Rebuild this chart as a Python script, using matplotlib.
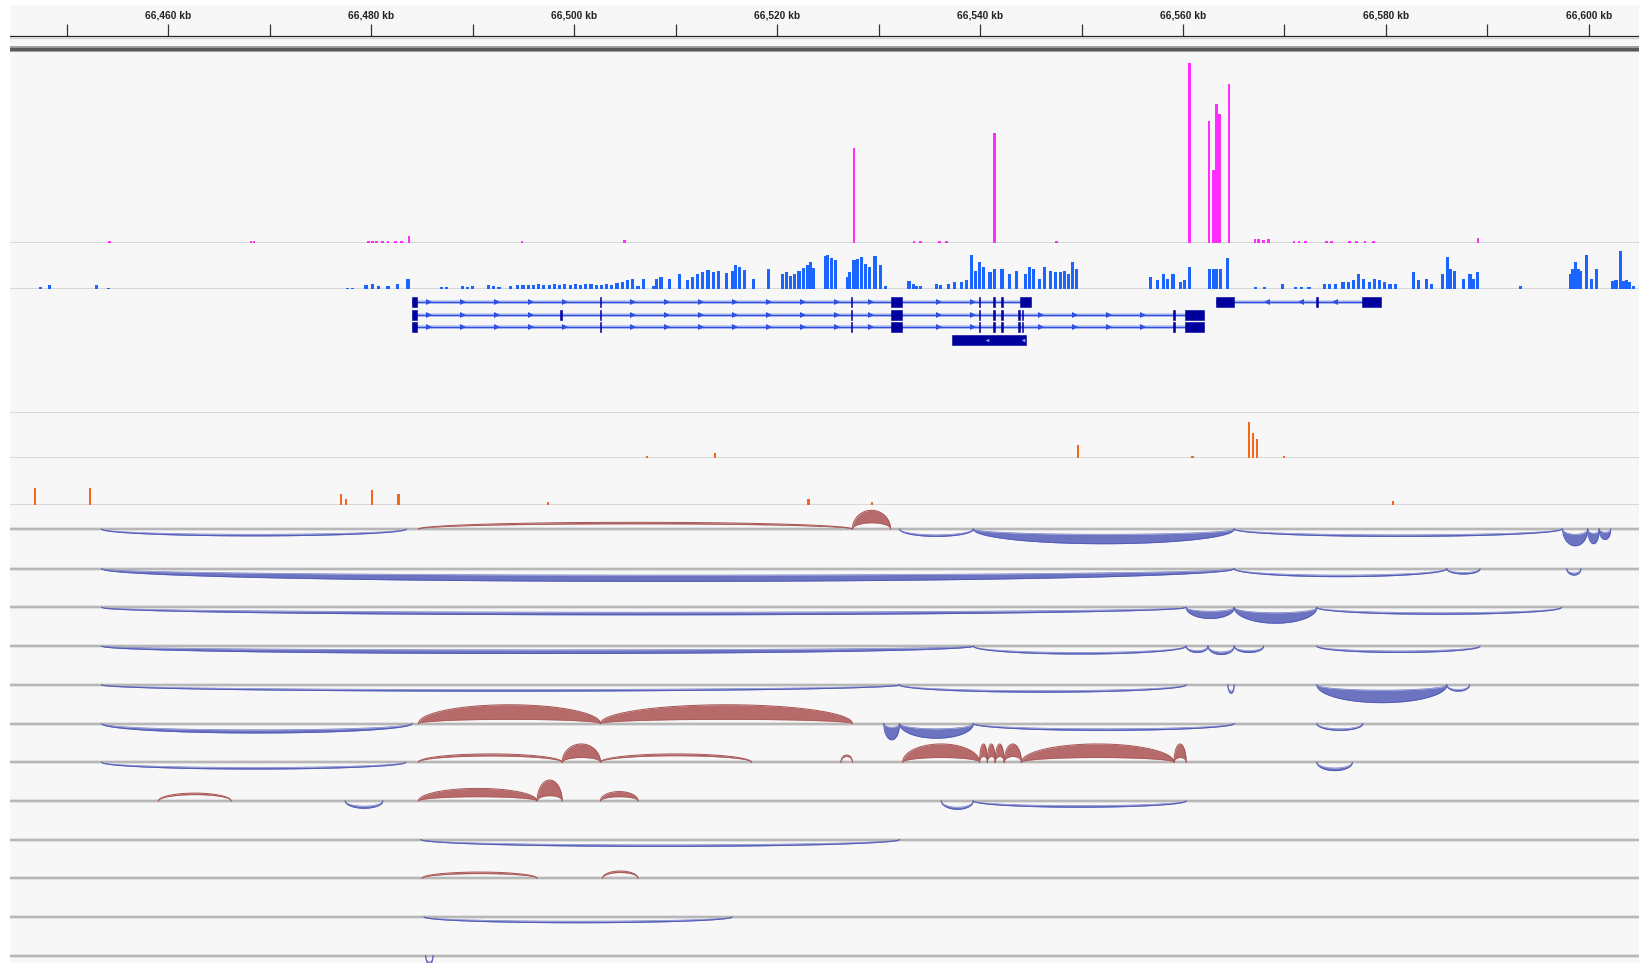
import numpy as np
import matplotlib
matplotlib.use("Agg")
import matplotlib.pyplot as plt
from matplotlib.patches import Rectangle

# ---------------- data ----------------
RULER_TICKS_KB = [66450, 66460, 66470, 66480, 66490, 66500, 66510, 66520,
                  66530, 66540, 66550, 66560, 66570, 66580, 66590, 66600]
RULER_LABELS_KB = [66460, 66480, 66500, 66520, 66540, 66560, 66580, 66600]

mag_x = [66454.22, 66468.14, 66468.45, 66479.69, 66480.10, 66480.51, 66481.13, 66481.65,
         66482.37, 66482.99, 66483.71, 66494.84, 66504.95, 66527.58, 66533.50, 66534.12,
         66535.98, 66536.70, 66541.44, 66547.52, 66560.62, 66562.58, 66562.99, 66563.30,
         66563.61, 66564.53, 66567.11, 66567.42, 66567.94, 66568.45, 66570.93, 66571.44,
         66572.06, 66574.12, 66574.64, 66576.39, 66577.11, 66577.94, 66578.76, 66589.07]
mag_h = [2, 2, 2, 2, 2, 2, 2, 2, 2, 2, 7, 2, 3, 91, 2, 2, 2, 2, 105, 2,
         172, 117, 70, 133, 123, 152, 4, 4, 3, 4, 2, 2, 2, 2, 2, 2, 2, 2, 2, 5]

blue_x = [66447.42, 66448.25, 66452.88, 66454.12,
          66477.63, 66478.14, 66479.48, 66480.10, 66480.72, 66481.65, 66482.58, 66483.61,
          66486.91, 66487.42, 66488.97, 66489.48, 66490.00, 66491.54, 66492.06, 66492.58, 66493.71,
          66494.43, 66494.95, 66495.46, 66495.98, 66496.49, 66497.01, 66497.52, 66498.04, 66498.55,
          66499.07, 66499.59, 66500.10, 66500.62, 66501.13, 66501.65, 66502.16, 66502.68, 66503.19,
          66503.71, 66504.22, 66504.74, 66505.26, 66505.77, 66506.29,
          66506.80, 66507.83, 66508.14, 66508.55, 66509.38, 66510.41, 66511.13, 66511.65, 66512.16,
          66512.68, 66513.19, 66513.71, 66514.22, 66515.05, 66515.56, 66515.87, 66516.29, 66516.80,
          66517.63, 66519.17, 66520.51, 66520.93, 66521.34, 66521.75, 66522.16, 66522.58, 66522.99,
          66523.30, 66523.61,
          66524.74, 66525.00, 66525.36, 66525.77,
          66526.91, 66527.16, 66527.58, 66527.94, 66528.35, 66528.71, 66529.12, 66529.64, 66530.15, 66530.67,
          66532.99, 66533.40, 66533.76, 66534.12,
          66535.67, 66536.08, 66536.85, 66537.52, 66538.14, 66538.66, 66539.17, 66539.59, 66539.95,
          66540.36, 66540.98, 66541.39, 66542.16, 66542.88, 66543.61, 66544.48, 66544.84, 66545.26,
          66545.87, 66546.39, 66546.91, 66547.42, 66547.94, 66548.35, 66548.71, 66549.12, 66549.48,
          66556.80, 66557.47, 66558.09, 66558.50, 66559.02, 66559.79, 66560.15, 66560.62,
          66562.63, 66562.99, 66563.30, 66563.66, 66564.43,
          66567.11, 66568.04, 66569.84, 66571.13, 66571.65, 66572.42,
          66573.97, 66574.48, 66575.00, 66575.77, 66576.29, 66576.80, 66577.32, 66577.83, 66578.35,
          66578.86, 66579.38, 66579.89, 66580.41, 66580.93,
          66582.73, 66583.25, 66584.02, 66584.53, 66585.56, 66586.08, 66586.34, 66586.75, 66587.63,
          66588.30, 66588.66, 66589.07,
          66593.30,
          66598.19, 66598.45, 66598.71, 66598.97, 66599.22, 66599.74, 66600.26, 66600.77,
          66602.32, 66602.68, 66603.09, 66603.40, 66603.71, 66604.02, 66604.38]
blue_h = [2, 4, 4, 1,
          1, 1, 4, 5, 3, 3, 5, 10,
          2, 2, 3, 2, 3, 4, 3, 2, 3,
          4, 4, 4, 4, 5, 4, 4, 5, 4, 5, 4, 5, 4, 5, 5, 4, 4, 5,
          4, 6, 7, 9, 10, 3,
          10, 3, 10, 12, 10, 14, 9, 12, 14, 16, 18, 16, 17, 15, 17, 23, 21, 18, 10, 19,
          14, 16, 13, 14, 17, 20, 23, 26, 20,
          32, 33, 30, 28,
          12, 16, 28, 29, 31, 24, 21, 32, 23, 3,
          8, 5, 3, 3,
          5, 3.5, 5, 7, 7, 9, 33, 17, 26, 21, 16, 19, 19, 14, 17, 14, 21, 19, 10, 21, 17,
          16, 16, 17, 14, 26, 19,
          12, 9, 14, 10, 14, 7, 9, 21,
          19, 19, 19, 19, 30,
          2, 2, 5, 2, 2, 2,
          5, 5, 5, 7, 7, 9, 14, 10, 7, 10, 9, 7, 5, 5,
          16, 9, 10, 5, 14, 31, 19, 17, 10, 14, 10, 16,
          3,
          14, 19, 26, 19, 17, 33, 10, 19,
          8, 9, 36, 8, 9, 7, 3]

or1_x = [66507.21, 66513.86, 66549.64, 66560.93, 66566.49, 66566.91, 66567.27, 66569.95]
or1_h = [2.5, 5, 13, 2.5, 35, 24, 19, 2.5]
or2_x = [66446.85, 66452.27, 66477.01, 66477.47, 66480.05, 66482.68, 66497.42,
         66523.09, 66529.38, 66580.67]
or2_h = [16, 16, 10, 5, 14, 10, 2.5, 5, 2.5, 3]

# gene model (exon start, end in kb)
tx1_exons = [(66484.02, 66484.53), (66502.50, 66502.66), (66527.24, 66527.40),
             (66531.18, 66532.32), (66539.87, 66540.03), (66541.31, 66541.47),
             (66542.08, 66542.24), (66543.97, 66545.05)]
tx2_exons = [(66484.02, 66484.53), (66498.63, 66498.79), (66502.50, 66502.66),
             (66527.24, 66527.40), (66531.18, 66532.32), (66539.87, 66540.03),
             (66541.31, 66541.47), (66542.08, 66542.24), (66543.73, 66543.89),
             (66544.09, 66544.25), (66559.04, 66559.20), (66560.20, 66562.06)]
tx3_exons = [(66484.02, 66484.53), (66502.50, 66502.66),
             (66527.24, 66527.40), (66531.18, 66532.32), (66539.87, 66540.03),
             (66541.31, 66541.47), (66542.08, 66542.24), (66543.73, 66543.89),
             (66544.09, 66544.25), (66559.04, 66559.20), (66560.20, 66562.06)]
tx4_exons = [(66537.21, 66544.53)]
gene2_exons = [(66563.25, 66565.05), (66573.11, 66573.27), (66577.68, 66579.48)]

# sashimi junctions
arc_track = [0, 0, 0, 0, 0, 0, 0, 0, 0,
             1, 1, 1, 1,
             2, 2, 2, 2,
             3, 3, 3, 3, 3, 3,
             4, 4, 4, 4, 4,
             5, 5, 5, 5, 5, 5, 5,
             6, 6, 6, 6, 6, 6, 6, 6, 6, 6, 6, 6, 6,
             7, 7, 7, 7, 7, 7, 7,
             8, 9, 9, 10, 11]
arc_start = [66453.40, 66484.64, 66527.42, 66532.06, 66539.33, 66565.05, 66597.42, 66599.89, 66601.03,
             66453.40, 66565.05, 66586.00, 66597.83,
             66453.40, 66560.31, 66565.05, 66573.19,
             66453.40, 66539.33, 66560.31, 66562.47, 66565.05, 66573.19,
             66453.40, 66532.06, 66564.43, 66573.19, 66586.00,
             66453.40, 66484.64, 66502.58, 66530.51, 66532.06, 66539.33, 66573.19,
             66453.40, 66484.64, 66498.81, 66502.58, 66526.29, 66532.37, 66539.95, 66540.72,
             66541.49, 66542.37, 66544.07, 66559.12, 66573.19,
             66459.02, 66477.42, 66484.64, 66496.34, 66502.58, 66536.18, 66539.33,
             66484.89, 66485.00, 66502.78, 66485.20, 66485.36]
arc_end = [66483.45, 66527.42, 66531.18, 66539.33, 66565.05, 66597.32, 66599.89, 66601.03, 66602.16,
           66565.05, 66586.00, 66589.28, 66599.22,
           66560.31, 66565.05, 66573.19, 66597.32,
           66539.33, 66560.31, 66562.47, 66565.05, 66567.94, 66589.28,
           66532.06, 66560.31, 66565.05, 66586.00, 66588.25,
           66484.02, 66502.58, 66527.42, 66532.06, 66539.33, 66565.05, 66577.73,
           66483.40, 66498.81, 66502.58, 66517.47, 66527.42, 66539.95, 66540.72, 66541.49,
           66542.37, 66544.07, 66559.12, 66560.31, 66576.70,
           66466.18, 66481.13, 66496.34, 66498.81, 66506.29, 66539.33, 66560.31,
           66532.06, 66496.34, 66506.29, 66515.56, 66486.08]
arc_height = [6.5, 6.5, 18, 7, 14, 7, 16, 14, 10,
              12, 7.5, 5, 6,
              7, 10.5, 15, 6.5,
              7, 7.5, 6, 8, 6, 6,
              6, 7, 8, 17, 6,
              9, 18, 18, 15.5, 14, 6.5, 6.5,
              6.5, 8, 17.5, 8, 7, 17.5, 17.5, 17.5, 17.5, 17.5, 17.5, 17.5, 8,
              7.5, 7, 12, 20, 9, 8, 6,
              6.5, 6, 7, 5.5, 8]
arc_thick = [1.5, 1.5, 12, 1.5, 9, 1.5, 11, 10, 7,
             6, 1.5, 1.5, 2,
             2.5, 7, 10, 1.5,
             3.5, 1.5, 1.8, 2.5, 1.8, 1.5,
             1.5, 1.5, 2, 12, 1.5,
             3, 14, 14, 12, 9, 1.5, 1.5,
             1.5, 2, 13, 1.8, 1.5, 13, 12, 12, 12, 12, 13, 13, 2.5,
             1.5, 2, 8, 15, 5, 2, 1.5,
             1.5, 1.5, 1.5, 1.5, 2]
arc_up = [0, 1, 1, 0, 0, 0, 0, 0, 0,
          0, 0, 0, 0,
          0, 0, 0, 0,
          0, 0, 0, 0, 0, 0,
          0, 0, 0, 0, 0,
          0, 1, 1, 0, 0, 0, 0,
          0, 1, 1, 1, 1, 1, 1, 1, 1, 1, 1, 1, 0,
          1, 0, 1, 1, 1, 0, 0,
          0, 1, 1, 0, 0]

# ---------------- layout (reference units of 1568 x 921) ----------------
W, H = 1568.0, 921.0
LEFT = 10.0
X0_KB, X1_KB = 66444.43, 66605.05
SASHIMI_BASE = [506, 544, 581, 618, 655, 692, 729, 766, 803, 840, 877, 914]

MAG = '#ff2eff'
COV = '#1c66ff'
ORG = '#f8661a'
GENE_BLK = '#00009c'
GENE_LN = '#2f4fe0'
RED_F, RED_E = '#b76a6a', '#a65252'
BLU_F, BLU_E = '#6c74c2', '#535cb8'
SEP = '#cfcfcf'

fig = plt.figure(figsize=(16.4, 9.63), dpi=100)
fig.patch.set_facecolor('white')


def add_track(top, bottom, ylim):
    ax = fig.add_axes([LEFT / W, 1 - bottom / H, 1 - LEFT / W, (bottom - top) / H])
    ax.set_xlim(X0_KB, X1_KB)
    ax.set_ylim(*ylim)
    ax.axis('off')
    return ax


bg = fig.add_axes([LEFT / W, 0, 1 - LEFT / W, 1 - 5 / H])
bg.set_facecolor('#f7f7f7')
bg.set_xticks([]); bg.set_yticks([])
for s in bg.spines.values():
    s.set_visible(False)

# ruler
axr = add_track(0, 52, (52, 0))
axr.vlines(RULER_TICKS_KB, 23, 34.5, color='#333333', lw=0.9)
for kb in RULER_LABELS_KB:
    axr.text(kb, 14.5, f"{kb:,} kb", ha='center', va='center', fontsize=7.3,
             fontweight='bold', family=['Liberation Sans', 'DejaVu Sans'], color='#222222')
axr.axhline(34.5, color='#222222', lw=0.9)
axr.axhline(36.2, color='#d0d0d0', lw=0.8)
axr.axhline(47.3, color='#9c9c9c', lw=4.2)
axr.axhline(47.3, color='#5a5a5a', lw=2.2)

# magenta signal
axm = add_track(52, 232.5, (0, 180.5))
axm.axhline(0, color=SEP, lw=1.8, zorder=1)
axm.bar(mag_x, mag_h, width=0.26, color=MAG, linewidth=0, zorder=2)

# blue coverage
axb = add_track(232.5, 276.5, (0, 44))
axb.axhline(0, color=SEP, lw=1.8, zorder=1)
axb.bar(blue_x, blue_h, width=0.31, color=COV, linewidth=0, zorder=2)

# gene track (y downward)
axg = add_track(276.5, 395, (118.5, 0))
axg.axhline(118.5, color=SEP, lw=1.8)
ROW_Y = [12.5, 24.5, 36.5, 48.5]


def draw_transcript(ax, exons, y, strand, line=True):
    s, e = exons[0][0], exons[-1][1]
    if line:
        ax.plot([s, e], [y, y], color='#bcc5f2', lw=2.6, solid_capstyle='butt', zorder=2)
        ax.plot([s, e], [y, y], color=GENE_LN, lw=1.0, solid_capstyle='butt', zorder=3)
        pos = np.arange(s + 1.7, e - 0.6, 3.35)
        ok = [p for p in pos if all(p < a - 0.5 or p > b + 0.5 for a, b in exons)]
        ax.plot(ok, [y] * len(ok), linestyle='none', marker='>' if strand > 0 else '<',
                ms=3.8, color=GENE_LN, mew=0, zorder=4)
    for a, b in exons:
        ax.add_patch(Rectangle((a, y - 4.6), b - a, 9.2, facecolor=GENE_BLK,
                               edgecolor=GENE_BLK, lw=0.4, zorder=5))


draw_transcript(axg, tx1_exons, ROW_Y[0], 1)
draw_transcript(axg, tx2_exons, ROW_Y[1], 1)
draw_transcript(axg, tx3_exons, ROW_Y[2], 1)
draw_transcript(axg, tx4_exons, ROW_Y[3], -1, line=False)
axg.plot([tx4_exons[0][0] + 3.5, tx4_exons[0][1] - 0.3], [ROW_Y[3]] * 2, linestyle='none',
         marker='<', ms=2.6, color='#8f9ff0', mew=0, zorder=6)
draw_transcript(axg, gene2_exons, ROW_Y[0], -1)

# orange tracks
axo1 = add_track(395, 438.5, (0, 43.5))
axo1.axhline(0, color=SEP, lw=1.8, zorder=1)
axo1.bar(or1_x, or1_h, width=0.22, color=ORG, linewidth=0, zorder=2)
axo2 = add_track(438.5, 482.5, (0, 44))
axo2.axhline(0, color=SEP, lw=1.8, zorder=1)
axo2.bar(or2_x, or2_h, width=0.22, color=ORG, linewidth=0, zorder=2)

# sashimi tracks
sash_axes = []
for b in SASHIMI_BASE:
    ax = add_track(b - 24, b + 14, (-14, 24))
    ax.axhline(0, color='#dcdcdc', lw=2.6, zorder=1)
    ax.axhline(0, color='#b0b0b0', lw=1.2, zorder=1)
    sash_axes.append(ax)

u = np.linspace(0, 1, 300)
prof = np.sqrt(np.clip(4 * u * (1 - u), 0, None))
for t, x1, x2, hgt, thk, up in zip(arc_track, arc_start, arc_end, arc_height, arc_thick, arc_up):
    ax = sash_axes[t]
    xs = x1 + (x2 - x1) * u
    sgn = 1 if up else -1
    outer = sgn * hgt * prof
    inner = sgn * max(hgt - thk, 0.0) * prof
    fc, ec = (RED_F, RED_E) if up else (BLU_F, BLU_E)
    ax.fill_between(xs, inner, outer, color=fc, lw=0, zorder=3, clip_on=False)
    ax.plot(xs, outer, color=ec, lw=0.7, zorder=4, clip_on=False)
    ax.plot(xs, inner, color=ec, lw=0.5, zorder=4, clip_on=False, alpha=0.8)

fig.savefig('out.png', dpi=100, facecolor='white')
